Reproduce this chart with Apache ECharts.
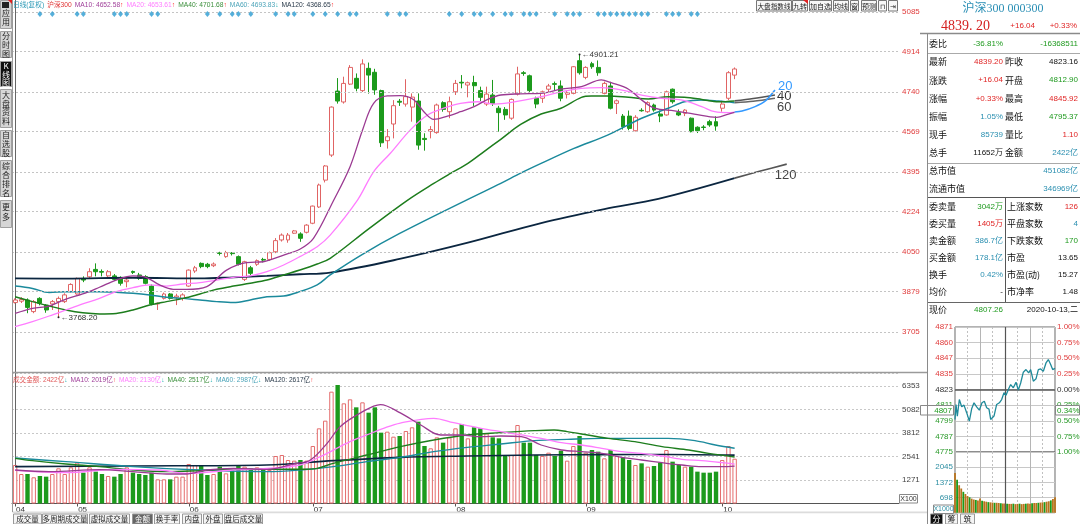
<!DOCTYPE html>
<html>
<head>
<meta charset="utf-8">
<script src="https://cdn.jsdelivr.net/npm/echarts@6.0.0/dist/echarts.min.js"></script>
<style>
html,body{margin:0;padding:0;background:#fff;overflow:hidden}
#chart{width:1080px;height:524px}
</style>
</head>
<body>
<div id="chart"></div>
<script>
// ---------------- DATA ----------------
const dates = ['04-17','04-20','04-21','04-22','04-23','04-24','04-27','04-28','04-29','04-30',
'05-06','05-07','05-08','05-11','05-12','05-13','05-14','05-15','05-18','05-19','05-20','05-21','05-22','05-25','05-26','05-27','05-28','05-29',
'06-01','06-02','06-03','06-04','06-05','06-08','06-09','06-10','06-11','06-12','06-15','06-16','06-17','06-18','06-19','06-22','06-23','06-24','06-29','06-30',
'07-01','07-02','07-03','07-06','07-07','07-08','07-09','07-10','07-13','07-14','07-15','07-16','07-17','07-20','07-21','07-22','07-23','07-24','07-27','07-28','07-29','07-30','07-31',
'08-03','08-04','08-05','08-06','08-07','08-10','08-11','08-12','08-13','08-14','08-17','08-18','08-19','08-20','08-21','08-24','08-25','08-26','08-27','08-28','08-31',
'09-01','09-02','09-03','09-04','09-07','09-08','09-09','09-10','09-11','09-14','09-15','09-16','09-17','09-18','09-21','09-22','09-23','09-24','09-25','09-28','09-29','09-30',
'10-09','10-12','10-13'];

const openP = [
3832,3838,3843,3793,3850,3821,3826,3836,3836,3880,
3869,3934,3943,3975,3966,3947,3947,3937,3922,3966,
3951,3944,3903,3826,3850,3869,3855,3850,3903,3968,
4001,3997,3991,4046,4030,4046,4030,3932,3982,3997,
4018,4018,4051,4102,4102,4131,4128,4135,4174,4244,
4360,4468,4744,4697,4774,4799,4746,4842,4825,4746,
4530,4602,4700,4688,4675,4701,4540,4570,4565,4694,
4655,4741,4782,4770,4781,4746,4688,4727,4670,4665,
4627,4731,4823,4810,4713,4713,4752,4776,4766,4730,
4734,4875,4803,4862,4846,4734,4766,4691,4636,4636,
4573,4661,4655,4684,4645,4641,4752,4651,4648,4627,
4588,4589,4612,4612,4670,4713,4812.90];
const closeP = [
3843,3845,3811,3836,3829,3800,3836,3850,3865,3910,
3936,3929,3965,3965,3963,3965,3932,3915,3929,3962,
3936,3915,3826,3829,3869,3850,3860,3865,3972,3982,
3987,3987,3998,4044,4047,4043,3997,4008,3958,4013,
4015,4047,4099,4123,4123,4141,4109,4166,4248,4339,
4421,4675,4701,4777,4846,4756,4861,4813,4749,4521,
4547,4681,4696,4720,4718,4511,4535,4578,4684,4665,
4698,4777,4779,4780,4767,4717,4731,4691,4651,4641,
4708,4818,4820,4746,4688,4741,4766,4773,4713,4737,
4849,4823,4846,4849,4823,4777,4670,4702,4590,4583,
4631,4659,4694,4662,4636,4741,4698,4641,4662,4569,
4573,4587,4598,4593,4688,4823.16,4839.20];
const lowP = [
3828,3830,3786,3786,3820,3788,3800,3768.20,3830,3875,
3866,3920,3935,3945,3945,3935,3925,3905,3898,3955,
3930,3910,3820,3800,3845,3845,3821,3840,3900,3960,
3980,3980,3985,4035,4025,4035,3992,3925,3950,3990,
4005,4012,4045,4095,4090,4128,4094,4130,4170,4240,
4350,4460,4690,4690,4770,4743,4740,4733,4728,4503,
4496,4540,4680,4677,4612,4491,4487,4540,4560,4655,
4627,4727,4756,4717,4680,4700,4680,4680,4569,4620,
4620,4725,4810,4740,4670,4693,4735,4745,4700,4712,
4730,4815,4795,4840,4810,4730,4665,4645,4578,4575,
4570,4655,4650,4655,4610,4638,4690,4636,4636,4566,
4563,4575,4590,4573,4655,4705,4795.37];
const highP = [
3850,3855,3850,3843,3855,3825,3843,3858,3872,3915,
3940,3945,3980,4001,3975,3972,3955,3945,3940,3970,
3960,3950,3910,3832,3875,3873,3870,3872,3975,3990,
4005,4003,4005,4051,4055,4050,4035,4012,3990,4018,
4025,4052,4110,4130,4132,4145,4135,4170,4250,4345,
4425,4678,4800,4806,4856,4820,4881,4867,4840,4750,
4580,4705,4710,4795,4734,4734,4562,4593,4690,4700,
4720,4792,4813,4785,4810,4763,4763,4792,4680,4675,
4712,4849,4830,4815,4720,4746,4775,4785,4790,4745,
4852,4901.21,4851,4870,4876,4785,4784,4708,4645,4660,
4640,4670,4700,4690,4660,4746,4755,4665,4666,4630,
4592,4597,4620,4635,4702,4830,4845.92];

// turnover (亿)
const amount = [
2082,1595,1595,1416,1487,1451,1595,1902,1595,1956,
2208,1667,1956,1722,1595,1487,1451,1595,1956,1667,
1595,1541,1667,1307,1307,1307,1451,1451,2136,2082,
2028,1541,1595,1992,1630,1811,2028,1992,1902,1956,
1811,1811,2568,2622,2352,2316,2352,2316,3109,4064,
4479,6047,6407,5416,5632,5200,5470,4911,5200,3830,
3884,3614,3650,3920,4120,4425,3109,2984,3578,3289,
3578,4064,4298,3523,4120,4064,3794,3578,3523,2568,
2622,4244,3289,3289,2622,2568,2748,2568,2857,2316,
3109,3650,2748,2893,2803,2442,2893,2568,2496,2352,
2082,2172,1992,2028,2208,2893,2262,2082,1992,1992,
1722,1667,1667,1722,2352,3109,2422];

// price moving averages: [bar index, value]
const ma10 = [[0,3785],[2.8,3807],[5.5,3817],[8.2,3847],[10.9,3869],[13.6,3898],[16.3,3929],[19,3947],[21.1,3941],[23.3,3908],[25.5,3889],[27.6,3889],[30.9,3901],[34.1,3972],[37.3,4004],[40,4008],[43.3,4037],[45.9,4062],[48.1,4109],[51.3,4270],[54,4418],[56.1,4583],[57.8,4691],[60,4723],[62.1,4724],[64.2,4708],[65.9,4655],[67.5,4622],[69.7,4636],[71.8,4655],[74,4677],[76.2,4708],[78.3,4727],[81.5,4732],[84.8,4734],[88,4752],[91.3,4763],[94.5,4792],[96.1,4780],[98.9,4752],[101,4706],[103.1,4670],[106.3,4659],[109.5,4645],[113.1,4631],[115,4645],[116,4652.58]];
const ma20 = [[0,3728],[2.8,3750],[5.5,3774],[8.2,3800],[10.9,3826],[13.6,3850],[16.3,3879],[19,3896],[21.7,3908],[24.4,3903],[27.1,3912],[29.8,3918],[32.5,3929],[35.2,3941],[37.9,3947],[40.6,3965],[43.3,3994],[45.9,4030],[48.7,4073],[50.8,4123],[55.2,4274],[57.8,4396],[60.5,4476],[63.8,4579],[66.5,4641],[69.1,4670],[71.8,4691],[74.6,4698],[77.2,4688],[80,4695],[84.8,4720],[88,4741],[91.3,4756],[94.5,4759],[97.7,4749],[101,4727],[104.2,4713],[107.4,4706],[110.7,4677],[112.8,4655],[115,4651],[116,4653.61]];
const ma40 = [[0,3857],[2.8,3836],[5.5,3817],[8.2,3800],[10.9,3788],[13.6,3783],[16.3,3785],[19,3800],[21.7,3821],[24.4,3836],[27.1,3850],[29.8,3869],[32.5,3889],[35.2,3903],[37.9,3915],[40.6,3929],[43.3,3951],[45.9,3972],[48.7,3998],[50.8,4023],[57,4150],[63.3,4274],[67.5,4346],[70.2,4389],[73,4432],[75.6,4483],[78.3,4536],[81.5,4600],[84.8,4645],[88,4670],[91.3,4717],[92.9,4723],[95.6,4723],[98.9,4717],[102.1,4710],[105.3,4720],[107.9,4717],[110.7,4708],[113.4,4698],[116,4701.68]];
const ma60 = [[0,3903],[2.8,3893],[5.5,3875],[8.2,3879],[10.9,3879],[13.6,3879],[16.3,3876],[19,3872],[21.7,3865],[24.4,3855],[27.1,3850],[29.8,3843],[32.5,3836],[35.2,3832],[37.9,3843],[40.6,3857],[43.3,3860],[45.9,3879],[48.7,3908],[50.8,3951],[56,4040],[62,4130],[73,4277],[78.3,4346],[81.5,4390],[84.8,4432],[90.1,4497],[95.6,4555],[101,4627],[105.3,4670],[107.9,4698],[110.7,4706],[113.4,4701],[116,4693.83]];
const ma120 = [[0,3936],[8.2,3935],[19,3939],[29.8,3936],[35.2,3941],[40.6,3947],[45.9,3954],[50.8,3961],[62,4020],[73,4090],[84.8,4175],[95,4235],[103.7,4279],[116,4368.65]];
const maArrows = ['↑','↑','↑','↓','↑'];

// projected MA lines after the last bar
const fc20 = [[116,4653.61],[117.2,4658],[119.3,4677],[121,4703],[122.5,4749]];
const fc40 = [[116,4701.68],[119,4712],[122.5,4727]];
const fc60 = [[116,4693.83],[119,4700],[122.5,4713]];
const fc120 = [[116,4368.65],[120,4398],[124.4,4429]];

// turnover moving averages: [bar index, value]
const vma10 = [[0,1811],[5.5,1722],[13.6,1830],[19,1722],[24.4,1595],[27.6,1595],[30.9,1811],[35.2,1902],[40.6,1848],[44.9,2136],[47.6,2352],[50.3,3253],[52.4,4154],[55.7,4900],[58.9,5350],[62.1,4900],[65.4,4244],[68.6,3705],[71.8,3705],[75.1,3614],[78.3,3650],[81.6,3614],[84.8,3163],[88.1,2893],[91.3,2803],[94.6,2713],[97.8,2496],[101,2352],[104.3,2208],[107.5,2082],[110.7,1992],[114,1992],[116,2019]];
const vma20 = [[0,1794],[8.2,1667],[16.3,1848],[23.3,1811],[27.6,1630],[35.2,1811],[40.6,1902],[45.9,2082],[49.2,2532],[54,3343],[56.7,3705],[59.4,4064],[62.1,4350],[67.5,4605],[70.7,4370],[75.1,4064],[78.3,3884],[81.6,3705],[84.8,3523],[88.1,3289],[91.3,3163],[94.6,2984],[97.8,2803],[101,2713],[104.3,2568],[107.5,2388],[110.7,2316],[114,2208],[116,2130]];
const vma40 = [[0,2442],[2.8,2316],[8.2,2136],[13.6,1992],[19,1811],[24.4,1722],[29.8,1775],[35.2,1848],[40.6,1848],[45.9,1848],[48.7,1902],[51.3,2172],[56.7,2622],[62.1,3073],[67.5,3433],[72.9,3705],[78.3,3830],[83.7,3938],[86.9,3974],[89,3884],[92.3,3705],[95.6,3523],[99.9,3343],[104.3,3073],[108.6,2893],[111.8,2713],[116,2517]];
const vma60 = [[0,2460],[8.2,2262],[19,1992],[29.8,1811],[40.6,1722],[45.9,1811],[51.3,1992],[56.7,2262],[62.1,2496],[67.5,2803],[72.9,3037],[78.3,3217],[83.7,3397],[89,3469],[94.6,3523],[99.9,3523],[105.3,3523],[109.6,3397],[112.9,3163],[116,2987]];
const vma120 = [[0,1992],[19,2028],[40.6,2082],[51.3,2316],[62.1,2496],[72.9,2570],[83.7,2620],[94.6,2640],[105.3,2650],[116,2617]];
const volArrows = ['↓','↑','↓','↓','↓','↑'];

// signal marks (bar indices)
const signalIdx = [4,6,10,11,16,17,18,22,23,31,33,35,36,38,42,44,45,48,50,52,54,55,60,62,63,70,72,74,75,77,79,80,82,83,84,87,89,90,91,94,95,96,97,98,99,100,101,102,105,106,107,109,110];

// tick labels
const priceTicks = [3705,3879,4050,4224,4395,4569,4740,4914,5085];
const miniPriceLabels = ['4775','4787','4799','4811','4823','4835','4847','4860','4871'];
const miniPctLabels = ['1.00%','0.75%','0.50%','0.25%','0.00%','0.25%','0.50%','0.75%','1.00%'];
const miniVolLabels = ['','698','1372','2045',''];

// intraday (minutes from open, price) and volume per 5 minutes
const intraMin = [0,2.4,5.6,10.4,16,21.6,28,34.4,40,45.6,52,58.4,64.8,70.4,76,81.6,85.6,89.6,93.6,100,106.4,112,117.6,122.4,128,133.6,140,146.4,152,157.6,164,170.4,176.8,181.6,188,194.4,200,205.6,212,218.4,224,229.6,234.4,240];
const intraPrice = [4800,4811.5,4802.6,4815.3,4809.7,4811,4805.2,4798.7,4808.2,4812.8,4809.7,4807.1,4812.8,4814,4809,4807.9,4800,4798.7,4802.6,4811.5,4812.8,4815.3,4820.5,4818.5,4823,4826.8,4824.3,4828.6,4822.5,4828,4836.3,4838.3,4835.8,4838.3,4829.4,4831.2,4838.3,4838.8,4837,4843.4,4846,4842.2,4838.3,4839.2];
const intraVol = [1800,1500,1250,1100,950,850,760,700,640,600,580,560,650,540,520,500,480,470,460,450,450,440,430,420,420,410,400,400,410,390,400,410,390,400,410,420,410,430,440,440,450,460,470,480,500,520,560,620,700];
const prevClose = 4823.16;

// quote panel texts
const quoteHead = ['沪深300 000300','4839. 20','+16.04','+0.33%'];
const quoteRatio = ['委比','-36.81%','-16368511'];
const quoteRows = [
 ['最新','4839.20','昨收','4823.16'],
 ['涨跌','+16.04','开盘','4812.90'],
 ['涨幅','+0.33%','最高','4845.92'],
 ['振幅','1.05%','最低','4795.37'],
 ['现手','85739','量比','1.10'],
 ['总手','11652万','金额','2422亿']];
const quoteCap = [['总市值','451082亿'],['流通市值','346969亿']];
const quoteBook = [
 ['委卖量','3042万','上涨家数','126'],
 ['委买量','1405万','平盘家数','4'],
 ['卖金额','386.7亿','下跌家数','170'],
 ['买金额','178.1亿','市盈','13.65'],
 ['换手','0.42%','市盈(动)','15.27'],
 ['均价','-','市净率','1.48']];
const quoteNow = ['现价','4807.26','2020-10-13,二'];
const miniNow = ['4807','0.34%'];

// ---------------- LAYOUT / STYLE ----------------
const FONT_CJK = '"Noto Sans CJK SC", "Liberation Sans", sans-serif';
const FONT_NUM = '"Liberation Sans", "Noto Sans CJK SC", sans-serif';
const FONT_SERIF = '"Liberation Serif", "Noto Sans CJK SC", serif';
const N_SLOTS = 143;
const Y_MAX = 5136.75, Y_MIN = 3532.5;
const VOL_MAX = 7056, VOL_STEP = 1270.6;
const SIGNAL_Y = 5076;
const RED = '#e02424', GRN = '#1f9a1f', TEAL = '#2a8fb0', BLK = '#111';
const C = {ma10:'#9b3a92', ma20:'#ff7cff', ma40:'#1d7d1d', ma60:'#1b8a9c', ma120:'#0b2640'};
const UP = '#ff2a2a', DN = '#1fb0b0';

const cats = dates.concat(Array.from({length: N_SLOTS - dates.length}, (_, i) => '+' + i));
const monthStart = (i) => i < dates.length && (i === 0 || dates[i].slice(0,2) !== dates[i-1].slice(0,2));
const last = (a) => a[a.length - 1][1];

// ---------------- GRAPHIC HELPERS ----------------
const G = [];
function T(x, y, text, fill, align, size, family) {
  return {type:'text', x, y, silent:true, z:100,
    style:{text, fill, font: size + 'px ' + (family || FONT_CJK), align: align || 'left', verticalAlign:'middle'}};
}
function L(x1, y1, x2, y2, stroke, w, dash) {
  return {type:'line', silent:true, z:99, shape:{x1, y1, x2, y2}, style:{stroke, lineWidth: w || 1, lineDash: dash || null}};
}
function R(x, y, w, h, fill, stroke, lw) {
  return {type:'rect', silent:true, z:98, shape:{x, y, width:w, height:h}, style:{fill, stroke: stroke || null, lineWidth: lw || 1}};
}
const mctx = document.createElement('canvas').getContext('2d');
function runText(x, y, parts, size, family) {
  mctx.font = size + 'px ' + family;
  parts.forEach(([t, c, g]) => {
    G.push(T(x, y, t, c, 'left', size, family));
    x += mctx.measureText(t).width + (g || 0);
  });
}

// sidebar
[['应用',0,29,[13,22]],['分时图',31,58,[36,45,54]],['K线图',61,87,[66,74.5,82.5]],['大盘资料',89,128,[95,103.5,112,120.5]],
 ['自选股',130,157,[135,144,153]],['综合排名',160,197,[166,175,184,192.5]],['更多',200,228,[207,217]]].forEach(([t,y0,y1,ys]) => {
  const dark = t === 'K线图';
  G.push(R(0.5, y0 + 0.5, 11, y1 - y0 - 1, dark ? '#111' : '#d6d6d6', '#a0a0a0', 1));
  t.split('').forEach((ch, i) => G.push(T(6, ys[i], ch, dark ? '#fff' : '#222', 'center', 8, FONT_CJK)));
});
G.push(R(2, 2, 7, 6, '#222'));
G.push({type:'polygon', silent:true, z:101, shape:{points:[[8,0],[12,0],[12,4]]}, style:{fill:'#e02020'}});
G.push(L(12.5, 0, 12.5, 512, '#9a9a9a', 1));

// top buttons
[['大盘指数线',756,792],['九转',792,808],['加自选',809,832],['均线',833,849],['窗',850,859],['预测',861,877],['⊓',878,887],['⇥',888,898]].forEach(([t,x0,x1]) => {
  G.push(R(x0 + 0.5, 0.5, x1 - x0 - 1, 10.5, '#f7f7f7', '#777', 1));
  G.push(T((x0 + x1) / 2, 6, t, '#222', 'center', t.length >= 5 ? 6.6 : 7, FONT_CJK));
});
G.push({type:'polygon', silent:true, z:101, shape:{points:[[803,0],[808,0],[808,4]]}, style:{fill:'#e02020'}});

// main legend
runText(13, 5, [
  ['日线(复权)', '#2797b5', 3], ['沪深300', '#e03535', 3],
  ['MA10: ' + last(ma10).toFixed(2), '#a0409a'], [maArrows[0], UP, 3],
  ['MA20: ' + last(ma20).toFixed(2), '#ff7dff'], [maArrows[1], UP, 3],
  ['MA40: ' + last(ma40).toFixed(2), '#3c8f3c'], [maArrows[2], UP, 3],
  ['MA60: ' + last(ma60).toFixed(2), '#4aa3b8'], [maArrows[3], DN, 3],
  ['MA120: ' + last(ma120).toFixed(2), '#2a3a4a'], [maArrows[4], UP, 3]
], 6.7, FONT_NUM);

// volume legend
const arrC = (a) => a === '↑' ? UP : DN;
runText(13, 380, [
  ['成交金额: ' + amount[amount.length - 1] + '亿', '#e05a5a'], [volArrows[0], arrC(volArrows[0]), 3],
  ['MA10: ' + Math.round(last(vma10)) + '亿', '#a0409a'], [volArrows[1], arrC(volArrows[1]), 3],
  ['MA20: ' + Math.round(last(vma20)) + '亿', '#ff7dff'], [volArrows[2], arrC(volArrows[2]), 3],
  ['MA40: ' + Math.round(last(vma40)) + '亿', '#3c8f3c'], [volArrows[3], arrC(volArrows[3]), 3],
  ['MA60: ' + Math.round(last(vma60)) + '亿', '#4aa3b8'], [volArrows[4], arrC(volArrows[4]), 3],
  ['MA120: ' + Math.round(last(vma120)) + '亿', '#2a3a4a'], [volArrows[5], arrC(volArrows[5]), 3]
], 6.6, FONT_NUM);

// panel separators
G.push(L(12, 372.5, 928, 372.5, '#9a9a9a', 1.5));
G.push(R(12.5, 511.5, 915, 1.8, '#dcdcdc'));
G.push(R(899.5, 494.5, 18, 8.5, '#fff', '#888', 1));
G.push(T(908.5, 499, 'X100', '#333', 'center', 7, FONT_NUM));

// bottom tabs
[['成交量',13,42],['多周期成交量',42,88],['虚拟成交量',89,130],['金额',132,153],['换手率',154,180],['内盘',182,202],['外盘',203,223],['盘后成交量',224,263]].forEach(([t,x0,x1]) => {
  const sel = t === '金额';
  G.push(R(x0 + 0.5, 514, x1 - x0 - 1, 10, sel ? '#666' : '#f4f4f4', '#999', 1));
  G.push(T((x0 + x1) / 2, 519, t, sel ? '#fff' : '#222', 'center', 7.5, FONT_CJK));
});
[['分',930,943],['筹',945,958],['筑',960,975]].forEach(([t,x0,x1]) => {
  const sel = t === '分';
  G.push(R(x0 + 0.5, 514, x1 - x0 - 1, 10, sel ? '#111' : '#f4f4f4', '#999', 1));
  G.push(T((x0 + x1) / 2, 519, t, sel ? '#fff' : '#222', 'center', 8, FONT_CJK));
});

// right quote panel
G.push(L(927.5, 33, 927.5, 524, '#8a8a8a', 1));
G.push(T(1003, 9, quoteHead[0], '#2b8fb5', 'center', 12, FONT_SERIF));
G.push(T(941, 26, quoteHead[1], '#d42020', 'left', 14, FONT_SERIF));
G.push(T(1035, 26, quoteHead[2], RED, 'right', 8, FONT_NUM));
G.push(T(1077, 26, quoteHead[3], RED, 'right', 8, FONT_NUM));
G.push(L(920, 33.5, 1080, 33.5, '#8a8a8a', 1.5));
G.push(T(929, 44, quoteRatio[0], BLK, 'left', 9, FONT_CJK));
G.push(T(1003, 44, quoteRatio[1], GRN, 'right', 8, FONT_NUM));
G.push(T(1078, 44, quoteRatio[2], GRN, 'right', 8, FONT_NUM));
G.push(L(928, 53.5, 1080, 53.5, '#aaa', 1));
const rowColors = [[RED,BLK],[RED,GRN],[RED,RED],[TEAL,GRN],[TEAL,RED],[BLK,TEAL]];
quoteRows.forEach((r, i) => {
  const y = 62 + i * 18.2;
  G.push(T(929, y, r[0], BLK, 'left', 9, FONT_CJK));
  G.push(T(1003, y, r[1], rowColors[i][0], 'right', 8, FONT_NUM));
  G.push(T(1005, y, r[2], BLK, 'left', 9, FONT_CJK));
  G.push(T(1078, y, r[3], rowColors[i][1], 'right', 8, FONT_NUM));
});
G.push(L(928, 163.5, 1080, 163.5, '#aaa', 1));
quoteCap.forEach((r, i) => {
  const y = 171 + i * 17.5;
  G.push(T(929, y, r[0], BLK, 'left', 9, FONT_CJK));
  G.push(T(1078, y, r[1], TEAL, 'right', 8, FONT_NUM));
});
G.push(L(928, 197.5, 1080, 197.5, '#555', 1.2));
const bookColors = [[GRN,RED],[RED,TEAL],[TEAL,GRN],[TEAL,BLK],[TEAL,BLK],[BLK,BLK]];
quoteBook.forEach((r, i) => {
  const y = 207 + i * 17;
  G.push(T(929, y, r[0], BLK, 'left', 9, FONT_CJK));
  G.push(T(1003, y, r[1], bookColors[i][0], 'right', 8, FONT_NUM));
  G.push(T(1007, y, r[2], BLK, 'left', 9, FONT_CJK));
  G.push(T(1078, y, r[3], bookColors[i][1], 'right', 8, FONT_NUM));
});
G.push(L(1005.5, 197.5, 1005.5, 302, '#555', 1));
G.push(L(928, 302.5, 1080, 302.5, '#666', 1.2));
G.push(T(929, 310, quoteNow[0], BLK, 'left', 9, FONT_CJK));
G.push(T(1003, 310, quoteNow[1], GRN, 'right', 8, FONT_NUM));
G.push(T(1078, 310, quoteNow[2], BLK, 'right', 8, FONT_NUM));
// mini chart current price boxes
G.push(R(920.5, 405.5, 33, 9.5, '#fff', '#888', 1));
G.push(T(952, 410.5, miniNow[0], GRN, 'right', 8, FONT_NUM));
G.push(R(1055.5, 405.5, 24, 9.5, '#fff', '#888', 1));
G.push(T(1057, 410.5, miniNow[1], GRN, 'left', 8, FONT_NUM));
G.push(R(933.5, 505, 20, 8.5, '#fff', '#888', 1));
G.push(T(943.5, 509.5, 'X1000', '#2e8fa3', 'center', 7, FONT_NUM));

// ---------------- SERIES ----------------
function line(data, color, width, xi, yi, extra) {
  return Object.assign({type:'line', xAxisIndex:xi, yAxisIndex:yi, data, symbol:'none', showSymbol:false,
    smooth:0.35, lineStyle:{color, width}, silent:true, z:4}, extra || {});
}
function fcLine(data, color, label, labelColor, offset) {
  return line(data, color, 1.6, 2, 0, {smooth:0.3, endLabel:{show:true, formatter:label, color:labelColor,
    fontSize:13, fontFamily:'"Liberation Sans", sans-serif', distance:0, offset}});
}

const series = [
  {type:'candlestick', xAxisIndex:0, yAxisIndex:0, barWidth:4.4, z:3, silent:true,
   data: dates.map((d, i) => [openP[i], closeP[i], lowP[i], highP[i]]),
   itemStyle:{color:'#ffffff', color0:'#1c9a1c', borderColor:'#e06464', borderColor0:'#1c9a1c', borderWidth:1},
   markLine:{silent:true, symbol:['none','none'], animation:false,
     lineStyle:{color:'#c4c4c4', type:[2,2], width:1},
     label:{show:true, position:'end', distance:3, color:'#e03c3c', fontSize:8, fontFamily:FONT_NUM, formatter:(p) => String(p.value)},
     data: priceTicks.map(v => ({yAxis:v}))},
   markPoint:{silent:true, symbol:'circle', symbolSize:2, itemStyle:{color:'#222'},
     label:{show:true, position:'right', distance:1, color:'#333', fontSize:8, fontFamily:FONT_NUM,
       formatter:(p) => '←' + Number(p.value).toFixed(2)},
     data:[{type:'max', valueDim:'highest'}, {type:'min', valueDim:'lowest'}]}
  },
  line(ma120, C.ma120, 1.8, 2, 0),
  line(ma60, C.ma60, 1.5, 2, 0),
  line(ma40, C.ma40, 1.5, 2, 0),
  line(ma20, C.ma20, 1.3, 2, 0),
  line(ma10, C.ma10, 1.3, 2, 0),
  fcLine(fc120, '#555', '120', '#444', [-12, 11]),
  fcLine(fc60, '#666', '60', '#444', [2, 9]),
  fcLine(fc40, '#555', '40', '#333', [2, 1]),
  fcLine(fc20, '#3399ff', '20', '#3399ff', [3, -3]),
  {type:'scatter', xAxisIndex:0, yAxisIndex:0, data: signalIdx.map(i => [i, SIGNAL_Y]), symbol:'diamond',
   symbolSize:[5,6], itemStyle:{color:'#2b9bd1'}, silent:true, z:5},
  {type:'bar', xAxisIndex:1, yAxisIndex:1, barWidth:4.4, silent:true, z:2,
   data: amount.map((v, i) => ({value:v, itemStyle: closeP[i] >= openP[i]
     ? {color:'#ffffff', borderColor:'#e46c6c', borderWidth:1}
     : {color:'#1c9a1c', borderColor:'#1c9a1c', borderWidth:0}}))},
  line(vma120, C.ma120, 1.6, 3, 1),
  line(vma60, C.ma60, 1.4, 3, 1),
  line(vma40, C.ma40, 1.4, 3, 1),
  line(vma20, C.ma20, 1.3, 3, 1),
  line(vma10, C.ma10, 1.3, 3, 1),
  {type:'line', xAxisIndex:4, yAxisIndex:2, data: intraMin.map((m, i) => [m, intraPrice[i]]), symbol:'none',
   lineStyle:{color:'#1f8a9a', width:1.3}, silent:true, z:5,
   markLine:{silent:true, symbol:['none','none'], label:{show:false}, animation:false,
     data:[{yAxis:prevClose, lineStyle:{color:'#555', width:1.5, type:'solid'}},
           {xAxis:120, lineStyle:{color:'#555', width:1.2, type:'solid'}}]}},
  {type:'bar', xAxisIndex:5, yAxisIndex:4, barWidth:1.8, silent:true,
   data: intraVol.map((v, i) => [i * 5, v]),
   itemStyle:{color:(p) => p.dataIndex % 3 === 1 ? '#1a9a1a' : '#b8731c'},
   markLine:{silent:true, symbol:['none','none'], label:{show:false}, animation:false,
     data:[{xAxis:120, lineStyle:{color:'#555', width:1.2, type:'solid'}}]}}
];

const miniX = (gi) => ({type:'value', gridIndex:gi, min:0, max:240, interval:60,
  axisLine:{show:false}, axisTick:{show:false}, axisLabel:{show:false},
  splitLine:{show:true, lineStyle:{color:'#b5b5b5'}},
  minorTick:{show:false, splitNumber:2}, minorSplitLine:{show:true, lineStyle:{color:'#c0c0c0', type:[2,2]}}});

const option = {
  animation:false,
  backgroundColor:'#ffffff',
  textStyle:{fontFamily:FONT_NUM},
  grid:[
    {left:12, right:181, top:0, height:372, outerBoundsMode:'none'},
    {left:12, right:181, top:373, height:130.5, outerBoundsMode:'none'},
    {left:955, right:25, top:327, height:125, show:true, borderColor:'#666', borderWidth:1, outerBoundsMode:'none'},
    {left:955, right:25, top:452, height:60.7, show:true, borderColor:'#666', borderWidth:1, outerBoundsMode:'none'}
  ],
  xAxis:[
    {type:'category', gridIndex:0, data:cats, boundaryGap:true, show:false},
    {type:'category', gridIndex:1, data:cats, boundaryGap:true,
     axisLine:{show:true, lineStyle:{color:'#555'}},
     axisTick:{show:true, interval:(i) => monthStart(i), alignWithLabel:true, length:3, lineStyle:{color:'#555'}},
     axisLabel:{show:true, interval:(i) => monthStart(i), formatter:(v) => v.slice(0,2), fontSize:8, color:'#333', align:'left', margin:2, padding:[0,0,0,1]},
     splitLine:{show:false}},
    {type:'value', gridIndex:0, min:-0.5, max:N_SLOTS - 0.5, show:false},
    {type:'value', gridIndex:1, min:-0.5, max:N_SLOTS - 0.5, show:false},
    miniX(2),
    miniX(3)
  ],
  yAxis:[
    {type:'value', gridIndex:0, position:'right', min:Y_MIN, max:Y_MAX,
     axisLine:{show:true, lineStyle:{color:'#666'}}, axisTick:{show:false}, axisLabel:{show:false}, splitLine:{show:false}},
    {type:'value', gridIndex:1, position:'right', min:0, max:VOL_MAX, interval:VOL_STEP,
     axisLine:{show:true, lineStyle:{color:'#666'}}, axisTick:{show:false},
     axisLabel:{fontSize:8, color:'#444', margin:3, showMinLabel:false, showMaxLabel:false, formatter:(v) => String(Math.round(v))},
     splitLine:{show:true, lineStyle:{color:'#c8c8c8', type:[2,2]}}},
    {type:'value', gridIndex:2, position:'left', min:4775, max:4871, interval:12,
     axisLine:{show:false}, axisTick:{show:false},
     axisLabel:{fontSize:8, margin:2, formatter:(v) => miniPriceLabels[Math.round((v - 4775) / 12)] || '',
       color:(v) => { const k = Math.round((Number(v) - 4775) / 12); return k > 4 ? '#e03c3c' : (k === 4 ? '#333' : '#2a9a2a'); }},
     splitLine:{show:true, lineStyle:{color:'#c8c8c8'}}},
    {type:'value', gridIndex:2, position:'right', min:-1, max:1, interval:0.25,
     axisLine:{show:false}, axisTick:{show:false}, splitLine:{show:false},
     axisLabel:{fontSize:8, margin:2, formatter:(v) => miniPctLabels[Math.round((v + 1) / 0.25)] || '',
       color:(v) => Number(v) > 0.001 ? '#e03c3c' : (Number(v) < -0.001 ? '#2a9a2a' : '#333')}},
    {type:'value', gridIndex:3, position:'left', min:0, max:2760, interval:690,
     axisLine:{show:false}, axisTick:{show:false},
     axisLabel:{fontSize:8, margin:2, color:'#2e8fa3', formatter:(v) => miniVolLabels[Math.round(v / 690)] || ''},
     splitLine:{show:true, lineStyle:{color:'#c8c8c8'}}}
  ],
  series,
  graphic:{elements:G}
};

const chart = echarts.init(document.getElementById('chart'), null, {renderer:'canvas'});
chart.setOption(option);
</script>
</body>
</html>
